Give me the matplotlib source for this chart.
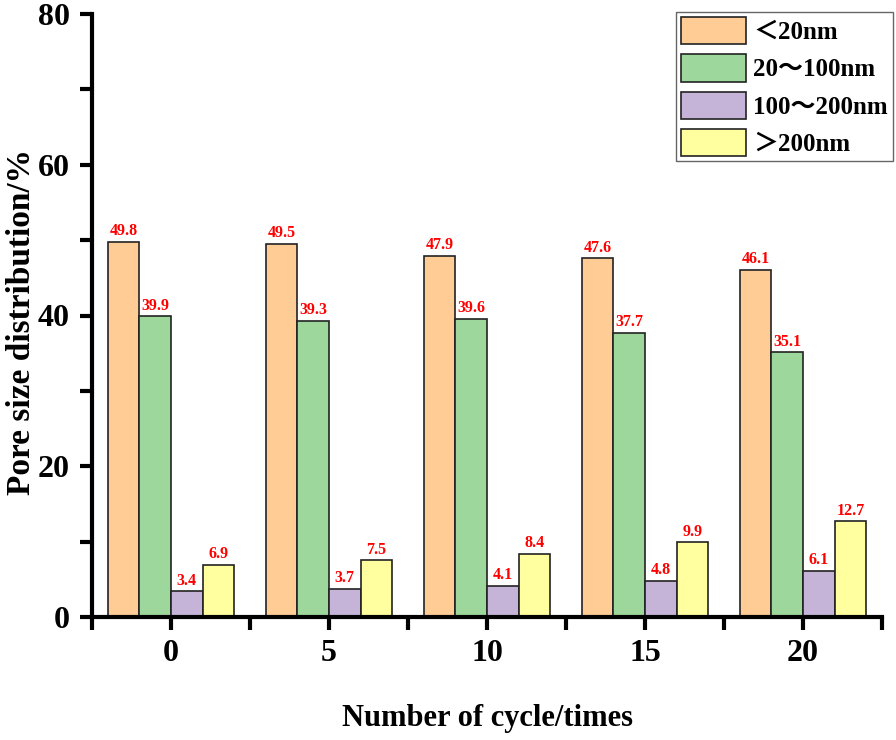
import numpy as np
import matplotlib
matplotlib.use('Agg')
import matplotlib.pyplot as plt

plt.rcParams['font.family'] = ['Liberation Serif', 'Noto Sans CJK SC', 'DejaVu Sans']
plt.rcParams['font.weight'] = 'bold'

cycles = ['0', '5', '10', '15', '20']
labels = ['＜20nm', '20～100nm', '100～200nm', '＞200nm']
lt20 = [49.8, 49.5, 47.9, 47.6, 46.1]
r20_100 = [39.9, 39.3, 39.6, 37.7, 35.1]
r100_200 = [3.4, 3.7, 4.1, 4.8, 6.1]
gt200 = [6.9, 7.5, 8.4, 9.9, 12.7]
colors = ['#FFCC96', '#9DD79B', '#C6B4D8', '#FFFFA0']

series = [lt20, r20_100, r100_200, gt200]

fig = plt.figure(figsize=(8.96, 7.4), dpi=100)
ax = fig.add_axes([92/896, 1-617/740, 790/896, 603/740])

x = np.arange(len(cycles))
w = 0.2
for i, (vals, lab, col) in enumerate(zip(series, labels, colors)):
    pos = x + (i - 1.5) * w
    bars = ax.bar(pos, vals, w, color=col, edgecolor='#222222', linewidth=1.2, label=lab, zorder=2)
    for b, v in zip(bars, vals):
        ax.text(b.get_x() + b.get_width()/2, v + 0.35, f'{v}', ha='center', va='bottom',
                color='red', fontsize=11.5, fontweight='bold')

ax.set_xlim(-0.5, 4.5)
ax.set_ylim(0, 80)
ax.set_xticks(x)
ax.set_xticklabels(cycles)
ax.set_xticks(np.arange(-0.5, 5, 1), minor=True)
ax.set_yticks([0, 20, 40, 60, 80])
ax.set_yticks([10, 30, 50, 70], minor=True)

for s in ['top', 'right']:
    ax.spines[s].set_visible(False)
for s in ['left', 'bottom']:
    ax.spines[s].set_linewidth(3)
ax.tick_params(which='both', direction='out', length=9, width=3, labelsize=23, pad=7)

ax.set_ylabel('Pore size distribution/%', fontsize=24, fontweight='bold')
ax.yaxis.set_label_coords(-0.07, 0.49)
ax.set_xlabel('Number of cycle/times', fontsize=22, fontweight='bold')
ax.xaxis.set_label_coords(0.5, -0.145)

leg = ax.legend(loc='upper right', bbox_to_anchor=(893/896, 1-12/740), bbox_transform=fig.transFigure,
                borderaxespad=0, fontsize=18, handlelength=2.6, handleheight=1.3,
                labelspacing=0.4, handletextpad=0.3, borderpad=0.2, fancybox=False,
                edgecolor='#666666', framealpha=1)
leg.get_frame().set_linewidth(1)

fig.savefig('out.png', dpi=100)
